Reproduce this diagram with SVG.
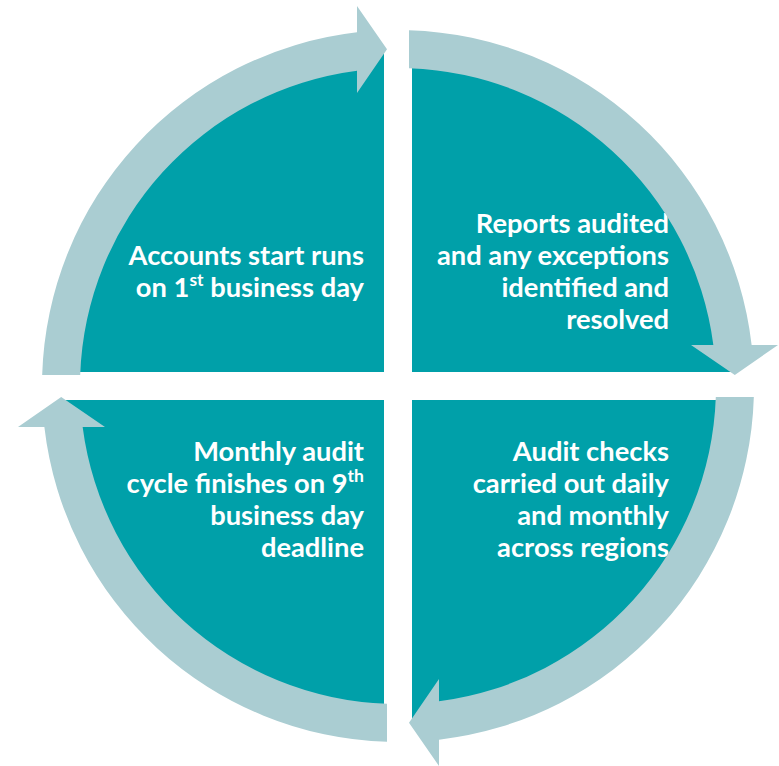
<svg xmlns="http://www.w3.org/2000/svg" xmlns:xlink="http://www.w3.org/1999/xlink" width="779" height="766" viewBox="0 0 779 766">
<style>
.wedge{fill:#00A0A9;}
.ring{fill:#AACDD2;}
.lbl{font-family:Lato,"Liberation Sans",sans-serif;font-weight:bold;font-size:27.3px;fill:#FFFFFF;text-anchor:end;}
.sup{font-size:17.5px;}
</style>
<defs>
<path id="arrow" d="M409,30.17 A356,356 0 0 1 751.63,345 L778,345 L734.8,375 L691,345 L713.35,345 A318,318 0 0 0 409,68.19 Z"/>
</defs>
<rect width="779" height="766" fill="#FFFFFF"/>
<g id="node-accounts-start">
<path class="wedge" d="M384,372 L64,372 A320,320 0 0 1 384,52 Z"/>
<text class="lbl"><tspan x="364" y="265">Accounts start runs</tspan><tspan x="364" y="297">on 1<tspan class="sup" dy="-11">st</tspan><tspan dy="11"> business day</tspan></tspan></text>
</g>
<g id="node-reports-audited">
<path class="wedge" d="M412,372 L412,52 A320,320 0 0 1 732,372 Z"/>
<text class="lbl"><tspan x="669" y="233">Reports audited</tspan><tspan x="669" y="265">and any exceptions</tspan><tspan x="669" y="297">identified and</tspan><tspan x="669" y="329">resolved</tspan></text>
</g>
<g id="node-audit-checks">
<path class="wedge" d="M412,400 L732,400 A320,320 0 0 1 412,720 Z"/>
<text class="lbl"><tspan x="669" y="461">Audit checks</tspan><tspan x="669" y="493">carried out daily</tspan><tspan x="669" y="525">and monthly</tspan><tspan x="669" y="557">across regions</tspan></text>
</g>
<g id="node-monthly-cycle">
<path class="wedge" d="M384,400 L384,720 A320,320 0 0 1 64,400 Z"/>
<text class="lbl"><tspan x="364" y="461">Monthly audit</tspan><tspan x="364" y="493">cycle finishes on 9<tspan class="sup" dy="-11">th</tspan><tspan dy="11"/></tspan><tspan x="364" y="525">business day</tspan><tspan x="364" y="557">deadline</tspan></text>
</g>
<g id="connectors">
<use xlink:href="#arrow" class="ring"/>
<use xlink:href="#arrow" class="ring" transform="rotate(90 398 386)"/>
<use xlink:href="#arrow" class="ring" transform="rotate(180 398 386)"/>
<use xlink:href="#arrow" class="ring" transform="rotate(270 398 386)"/>
</g>
</svg>
